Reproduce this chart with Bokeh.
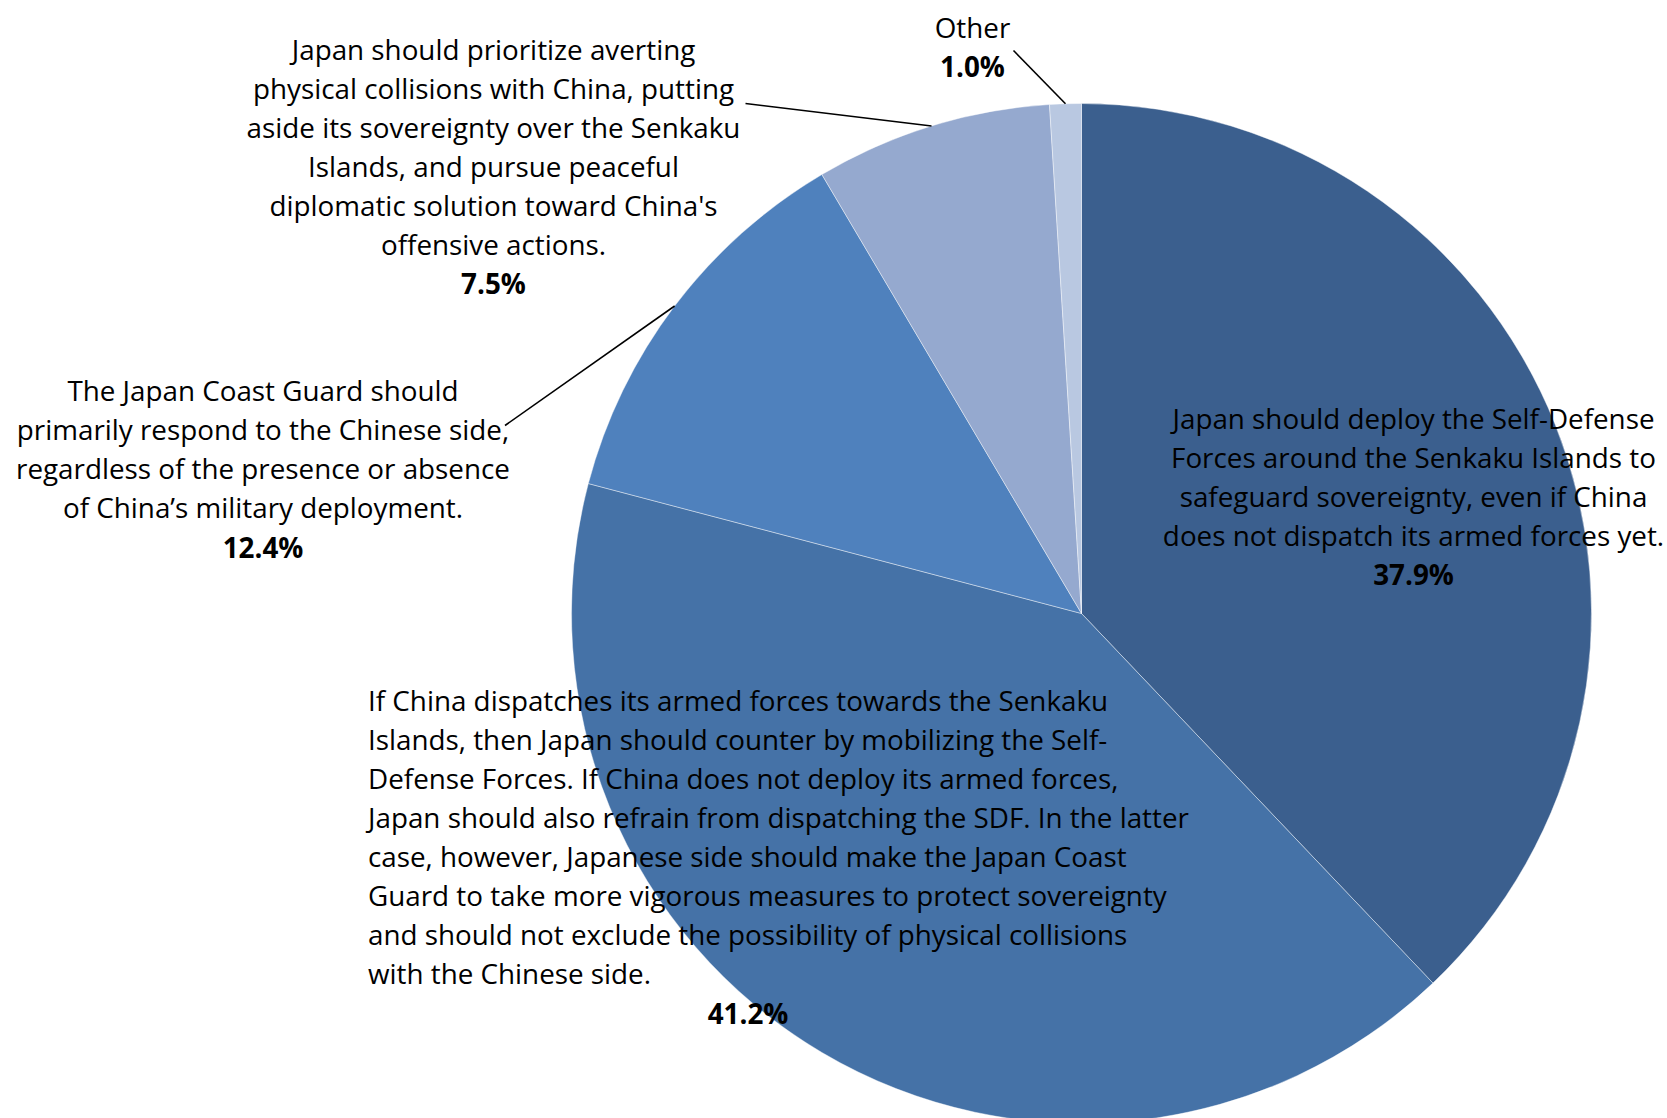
import numpy as np
from bokeh.plotting import figure
from bokeh.models import Range1d, ColumnDataSource
from bokeh.core.properties import value
from bokeh.embed import file_html
from bokeh.resources import INLINE

# ---------------- data ----------------
categories = [
    "Japan should deploy the Self-Defense Forces around the Senkaku Islands to safeguard sovereignty, even if China does not dispatch its armed forces yet.",
    "If China dispatches its armed forces towards the Senkaku Islands, then Japan should counter by mobilizing the Self-Defense Forces. If China does not deploy its armed forces, Japan should also refrain from dispatching the SDF. In the latter case, however, Japanese side should make the Japan Coast Guard to take more vigorous measures to protect sovereignty and should not exclude the possibility of physical collisions with the Chinese side.",
    "The Japan Coast Guard should primarily respond to the Chinese side, regardless of the presence or absence of China\u2019s military deployment.",
    "Japan should prioritize averting physical collisions with China, putting aside its sovereignty over the Senkaku Islands, and pursue peaceful diplomatic solution toward China's offensive actions.",
    "Other",
]
values = [37.9, 41.2, 12.4, 7.5, 1.0]

label_lines = [
    ["Japan should deploy the Self-Defense",
     "Forces around the Senkaku Islands to",
     "safeguard sovereignty, even if China",
     "does not dispatch its armed forces yet."],
    ["If China dispatches its armed forces towards the Senkaku",
     "Islands, then Japan should counter by mobilizing the Self-",
     "Defense Forces. If China does not deploy its armed forces,",
     "Japan should also refrain from dispatching the SDF. In the latter",
     "case, however, Japanese side should make the Japan Coast",
     "Guard to take more vigorous measures to protect sovereignty",
     "and should not exclude the possibility of physical collisions",
     "with the Chinese side."],
    ["The Japan Coast Guard should",
     "primarily respond to the Chinese side,",
     "regardless of the presence or absence",
     "of China\u2019s military deployment."],
    ["Japan should prioritize averting",
     "physical collisions with China, putting",
     "aside its sovereignty over the Senkaku",
     "Islands, and pursue peaceful",
     "diplomatic solution toward China's",
     "offensive actions."],
    ["Other"],
]

# ---------------- styles / layout ----------------
colors = ["#3B5F8E", "#4572A7", "#4F81BD", "#95A9CF", "#B9C8E1"]
H_PAGE = 1118
def Y(sy):  # screen y -> data y
    return H_PAGE - sy

cx, cy, R = 1081, Y(613), 510
FONT = "Open Sans"
FS = "27.8px"
LINE = 39.1

fr = np.array(values) / sum(values)
cum = np.concatenate([[0], np.cumsum(fr)])
start = np.pi / 2 - 2 * np.pi * cum[1:]
end = np.pi / 2 - 2 * np.pi * cum[:-1]

W, H = 1667, 1118
p = figure(width=W, height=H, output_backend="svg", toolbar_location=None,
           x_range=Range1d(0, W), y_range=Range1d(H_PAGE - H, H_PAGE),
           min_border=0, outline_line_color=None, background_fill_color="white")
p.axis.visible = False
p.grid.visible = False

src = ColumnDataSource(dict(start=start, end=end, color=colors, cat=categories, val=values))
p.wedge(x=cx, y=cy, radius=R, start_angle="start", end_angle="end",
        fill_color="color", line_color="white", line_width=0.6, line_alpha=0.7, source=src)

# label blocks: (anchor x, first line screen y, align, pct x, pct screen y)
blocks = [
    (1413, 417, "center", 1413, 573),
    (367.5, 699, "left", 747.5, 1012.5),
    (262.5, 389.5, "center", 262.5, 546),
    (493, 48, "center", 493, 282),
    (972, 26.5, "center", 972, 65),
]

tx, ty, tt, ta = [], [], [], []
px, py, pt = [], [], []
for i, (ax, sy, al, pxx, psy) in enumerate(blocks):
    for j, line in enumerate(label_lines[i]):
        tx.append(ax); ty.append(Y(sy + j * LINE)); tt.append(line); ta.append(al)
    px.append(pxx); py.append(Y(psy)); pt.append(f"{values[i]:.1f}%")

p.text(x=tx, y=ty, text=tt, text_align=ta, text_baseline="middle",
       text_font=value(FONT), text_font_size=FS, text_color="black")
p.text(x=px, y=py, text=pt, text_align="center", text_baseline="middle",
       text_font=value(FONT), text_font_size=FS, text_font_style="bold", text_color="black")

# leader lines: from label end to slice mid-angle on the rim
leaders = {2: (504.5, 425), 3: (745, 103), 4: (1013, 50)}
for i, (lx, lsy) in leaders.items():
    mid = np.pi / 2 - 2 * np.pi * (cum[i] + cum[i + 1]) / 2
    ex, ey = cx + R * np.cos(mid), cy + R * np.sin(mid)
    p.line(x=[lx, ex], y=[Y(lsy), ey], line_color="black", line_width=1.6)

open("out.html", "w").write(file_html(p, INLINE))
